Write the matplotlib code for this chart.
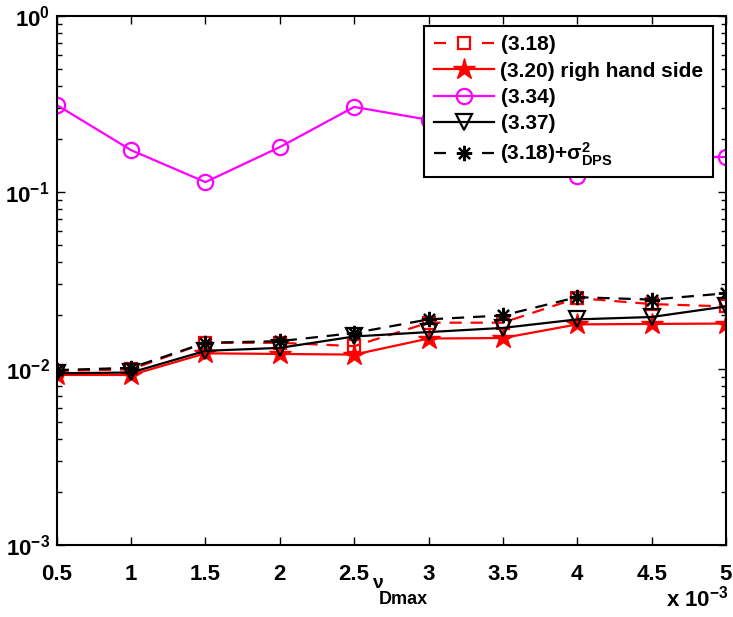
import matplotlib
matplotlib.use("Agg")
import matplotlib.pyplot as plt
from matplotlib.ticker import FixedLocator, FuncFormatter, LogLocator, NullFormatter
import numpy as np

plt.rcParams['font.family'] = ['Liberation Sans', 'DejaVu Sans']
plt.rcParams['font.weight'] = 'bold'
plt.rcParams['mathtext.fontset'] = 'custom'
plt.rcParams['mathtext.rm'] = 'Liberation Sans:bold'
plt.rcParams['mathtext.bf'] = 'Liberation Sans:bold'
plt.rcParams['mathtext.it'] = 'Liberation Sans:bold'

# nu_Dmax values
nu_dmax = [0.5e-3, 1.0e-3, 1.5e-3, 2.0e-3, 2.5e-3, 3.0e-3, 3.5e-3, 4.0e-3, 4.5e-3, 5.0e-3]

eq_318 = [0.0097, 0.0099, 0.0140, 0.0140, 0.0134, 0.0182, 0.0182, 0.0251, 0.0232, 0.0225]
eq_320_rhs = [0.0092, 0.0092, 0.0122, 0.0121, 0.0120, 0.0148, 0.0149, 0.0178, 0.0179, 0.0180]
eq_334 = [0.312, 0.173, 0.114, 0.180, 0.304, 0.257, 0.190, 0.124, 0.160, 0.158]
eq_337 = [0.0094, 0.0095, 0.0126, 0.0131, 0.0152, 0.0161, 0.0170, 0.0190, 0.0196, 0.0225]
eq_318_dps = [0.0098, 0.0101, 0.0140, 0.0143, 0.0159, 0.0190, 0.0200, 0.0254, 0.0246, 0.0267]

labels = ['(3.18)', '(3.20) righ hand side', '(3.34)', '(3.37)',
          r'(3.18)+$\sigma^{2}_{\mathbf{DPS}}$']
x_ticks = [0.5e-3, 1.0e-3, 1.5e-3, 2.0e-3, 2.5e-3, 3.0e-3, 3.5e-3, 4.0e-3, 4.5e-3, 5.0e-3]

fig = plt.figure(figsize=(7.33, 6.17), dpi=100)
ax = fig.add_axes([56.7 / 733, 1 - 545 / 617, (726 - 56.7) / 733, (545 - 15.7) / 617])

lw = 1.6
dash = (5.5, 4)

ax.plot(nu_dmax, eq_318, color='red', lw=lw, dashes=dash, marker='s', ms=9,
        mfc='none', mec='red', mew=1.6, label=labels[0])
ax.plot(nu_dmax, eq_320_rhs, color='red', lw=lw, marker='*', ms=16,
        mfc='red', mec='red', label=labels[1])
ax.plot(nu_dmax, eq_334, color='magenta', lw=lw, marker='o', ms=11,
        mfc='none', mec='magenta', mew=1.6, label=labels[2])
ax.plot(nu_dmax, eq_337, color='black', lw=lw, marker='v', ms=11,
        mfc='none', mec='black', mew=1.6, label=labels[3])
ax.plot(nu_dmax, eq_318_dps, color='black', lw=lw, dashes=dash, marker=(8, 2, 0), ms=11,
        mfc='black', mec='black', mew=1.6, label=labels[4])

ax.set_yscale('log')
ax.set_ylim(1e-3, 1e0)
ax.set_xlim(0.5e-3, 5e-3)

ax.xaxis.set_major_locator(FixedLocator(x_ticks))
ax.xaxis.set_major_formatter(FuncFormatter(lambda v, p: f"{v * 1e3:g}"))
ax.yaxis.set_major_locator(LogLocator(base=10, numticks=10))
ax.yaxis.set_major_formatter(FuncFormatter(lambda v, p: r'$\mathbf{10^{%d}}$' % int(round(np.log10(v)))))
ax.yaxis.set_minor_locator(LogLocator(base=10, subs=np.arange(2, 10), numticks=20))
ax.yaxis.set_minor_formatter(NullFormatter())

ax.tick_params(which='both', direction='in', top=True, right=True, width=1)
ax.tick_params(which='major', length=6, labelsize=16)
ax.tick_params(axis='x', which='major', pad=14)
ax.tick_params(axis='y', which='major', pad=5)
ax.tick_params(which='minor', length=3.5)
for lab in ax.get_xticklabels() + ax.get_yticklabels():
    lab.set_fontweight('bold')
for s in ax.spines.values():
    s.set_linewidth(1.5)

fig.text(378 / 733, 1 - 584 / 617, r'$\nu$', ha='center', va='center', fontsize=14)
fig.text(403 / 733, 1 - 599 / 617, 'Dmax', ha='center', va='center', fontsize=13,
         fontweight='bold')
fig.text(697 / 733, 1 - 599 / 617, r'x $\mathbf{10^{-3}}$', ha='center', va='center',
         fontsize=16, fontweight='bold')

leg = ax.legend(loc='upper right', bbox_to_anchor=(713 / 733, 1 - 26 / 617),
                bbox_transform=fig.transFigure, borderaxespad=0, fancybox=False,
                framealpha=1, edgecolor='black', handlelength=2.9,
                labelspacing=0.35, handletextpad=0.3, borderpad=0.45,
                prop={'weight': 'bold', 'size': 15})
leg.get_frame().set_linewidth(1.5)
# dashed legend samples: one dash at each end with the marker in between
for h in leg.get_lines():
    if h.get_linestyle() not in ('-', 'solid'):
        h.set_dashes((5.4, 16.2))

fig.savefig('out.png', dpi=100)
